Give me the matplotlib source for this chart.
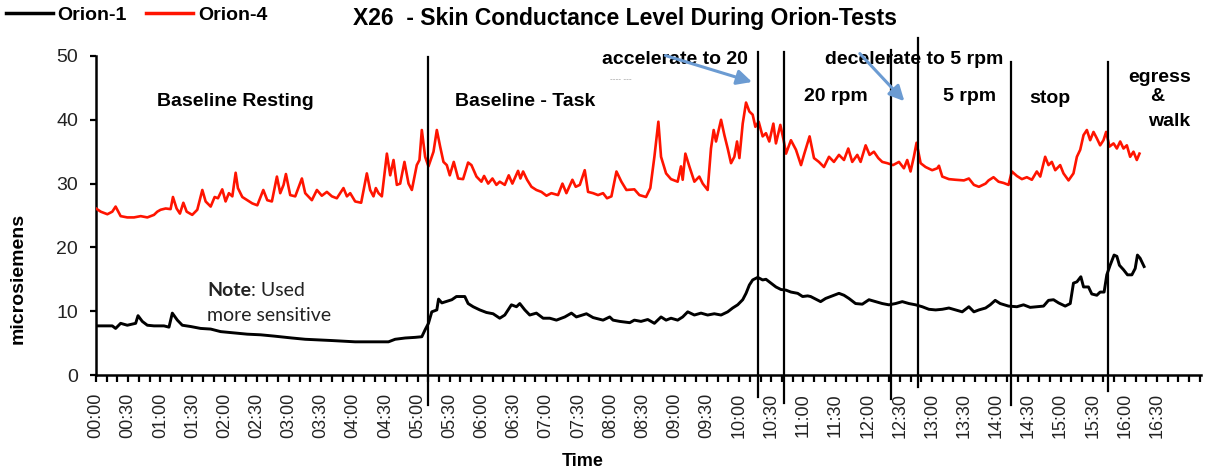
import matplotlib
matplotlib.use("Agg")
import matplotlib.pyplot as plt
import matplotlib.transforms as mtransforms
import numpy as np

plt.rcParams['font.family'] = ['Liberation Sans', 'DejaVu Sans']

# Orion-4 skin conductance (time in seconds, microsiemens)
red_t = [0, 4.4, 10.6, 15.2, 18.3, 23.0, 29.2, 35.4, 41.7, 47.9, 54.1, 57.2, 60.3, 65.0,
         69.6, 71.8, 75.2, 78.3, 81.5, 84.6, 89.8, 94.5, 99.2, 102.3, 107.0, 110.7, 113.8,
         117.8, 120.9, 124.0, 127.2, 130.3, 132.4, 136.5, 141.1, 145.8, 150.5, 156.1, 159.8,
         164.1, 168.8, 171.9, 175.0, 177.2, 181.2, 185.9, 192.1, 195.2, 201.4, 206.1, 210.7,
         215.4, 220.1, 224.7, 230.9, 234.1, 237.2, 241.8, 247.4, 252.7, 255.8, 258.9, 261.1,
         263.6, 266.7, 271.4, 274.5, 277.6, 280.7, 283.8, 287.8, 291.6, 294.7, 299.3, 301.8,
         304.0, 307.1, 310.2, 314.9, 318.0, 321.1, 324.2, 327.3, 330.1, 333.8, 337.9, 342.5,
         347.2, 350.3, 355.0, 359.6, 362.1, 365.9, 369.9, 373.6, 376.7, 381.4, 385.1, 388.5,
         393.8, 396.0, 398.5, 402.2, 406.3, 410.9, 415.6, 420.3, 424.9, 431.1, 435.2, 438.9,
         444.5, 447.6, 451.4, 456.0, 459.1, 463.8, 468.4, 473.1, 476.8, 480.9, 485.6, 490.2,
         494.9, 502.3, 507.0, 513.2, 517.2, 521.0, 524.7, 527.2, 531.9, 536.5, 542.7, 545.8,
         547.4, 549.9, 553.6, 558.3, 562.9, 566.1, 570.7, 573.8, 576.3, 578.5, 583.2, 586.3,
         589.4, 592.5, 595.6, 598.1, 600.3, 603.4, 606.5, 609.6, 612.7, 615.2, 618.3, 622.0,
         625.1, 628.2, 632.0, 634.4, 638.5, 641.6, 643.8, 648.4, 653.1, 657.8, 660.9, 665.8,
         669.9, 674.5, 679.2, 683.9, 688.5, 693.2, 697.9, 701.9, 705.6, 710.3, 713.4, 718.1,
         721.8, 725.8, 729.9, 733.6, 738.3, 743.6, 749.2, 753.8, 756.9, 760.0, 763.1, 765.6,
         769.4, 774.0, 780.2, 784.9, 786.5, 789.6, 795.8, 802.0, 809.8, 814.4, 819.1, 823.8,
         830.0, 832.8, 837.4, 842.1, 846.8, 851.4, 854.5, 859.2, 863.9, 868.5, 873.2, 877.8,
         881.0, 885.6, 888.7, 891.8, 895.0, 899.6, 902.7, 907.4, 912.0, 915.2, 918.3, 921.4,
         924.5, 927.6, 930.7, 933.8, 936.9, 940.0, 942.5, 945.6, 949.4, 952.5, 955.6, 958.7,
         961.8, 964.9, 968.0, 971.1, 973.6]
red_v = [26.1, 25.6, 25.2, 25.6, 26.4, 24.9, 24.7, 24.7, 24.9, 24.7, 25.1, 25.6, 25.9, 26.1,
         26.0, 27.9, 26.1, 25.3, 27.0, 25.6, 25.1, 25.9, 29.0, 27.2, 26.4, 27.9, 27.7,
         29.1, 27.2, 28.5, 28.0, 31.7, 29.3, 27.9, 27.4, 26.9, 26.6, 29.0, 27.4,
         27.2, 31.1, 28.5, 29.8, 31.5, 28.2, 28.0, 30.8, 28.5, 27.4, 29.0, 28.1,
         28.7, 28.0, 27.7, 29.3, 28.0, 28.5, 27.2, 27.0, 31.6, 29.0, 28.0, 29.3,
         28.5, 28.0, 34.7, 31.3, 33.7, 29.8, 30.0, 33.4, 30.0, 29.0, 32.9, 33.7,
         38.4, 34.2, 32.7, 35.0, 38.4, 35.8, 33.4, 32.9, 31.3, 33.4, 30.8, 30.7,
         33.3, 32.9, 31.1, 30.3, 31.2, 30.0, 30.8, 29.8, 30.3, 29.8, 31.3, 30.0,
         32.0, 30.8, 31.9, 30.6, 29.5, 29.0, 28.7, 28.1, 28.5, 28.2, 30.0, 28.5,
         30.6, 29.5, 29.8, 32.1, 28.7, 28.5, 28.2, 28.5, 27.7, 28.0, 31.9, 30.3,
         29.0, 29.1, 28.2, 27.9, 29.3, 34.2, 39.7, 34.2, 31.6, 30.7, 30.3, 32.7,
         30.6, 34.7, 32.7, 30.3, 31.1, 30.0, 29.0, 35.5, 38.4, 36.6, 40.0, 37.6,
         35.5, 33.2, 34.2, 36.6, 34.0, 39.4, 42.7, 41.3, 40.8, 38.9, 39.7, 37.4,
         37.9, 36.6, 39.4, 36.3, 39.2, 36.8, 34.7, 36.8, 35.3, 32.9, 34.7, 37.4,
         34.0, 33.4, 32.6, 34.2, 33.4, 34.5, 33.7, 35.5, 33.4, 34.5, 33.4, 36.0,
         34.5, 35.0, 34.0, 33.4, 33.2, 32.9, 33.4, 32.4, 33.7, 31.9, 34.2, 36.4,
         33.2, 32.6, 32.1, 32.4, 32.8, 31.1, 30.7, 30.6, 30.5, 30.8, 29.8, 29.5,
         30.0, 30.5, 31.0, 30.3, 30.1, 29.8, 31.9, 31.2, 30.7, 31.0, 30.6, 31.9,
         31.1, 34.2, 32.9, 33.4, 32.1, 32.9, 31.6, 30.5, 31.6, 34.2, 35.3, 37.6,
         38.4, 36.8, 38.1, 37.1, 36.0, 36.8, 38.1, 35.8, 36.3, 35.5, 36.6, 35.5,
         36.0, 34.2, 35.0, 33.7, 34.7]

# Orion-1 skin conductance (time in seconds, microsiemens)
black_t = [0, 15.2, 18.3, 23.0, 29.2, 37.0, 39.2, 43.2, 47.9, 54.1, 63.4, 68.1, 71.2, 75.9,
           80.5, 88.3, 97.6, 107.0, 116.3, 128.7, 141.1, 153.6, 166.0, 182.8, 195.2, 220.1,
           241.8, 272.9, 279.1, 288.5, 297.8, 304.0, 307.1, 310.2, 313.3, 318.0, 319.6, 322.7,
           332.0, 336.3, 344.1, 347.2, 351.9, 358.1, 364.3, 370.5, 376.7, 381.4, 387.6, 392.3,
           395.4, 400.1, 404.7, 410.9, 417.2, 423.4, 429.6, 437.4, 443.6, 448.2, 457.6, 463.8,
           473.1, 479.3, 482.4, 488.7, 498.0, 502.3, 508.5, 514.8, 521.0, 527.2, 531.9, 536.5,
           542.7, 547.4, 552.1, 558.3, 564.5, 570.7, 576.9, 583.2, 589.4, 594.0, 598.7, 603.4,
           606.5, 609.6, 612.7, 617.4, 622.0, 625.1, 629.8, 634.4, 639.1, 643.8, 648.4, 654.7,
           659.3, 664.0, 666.8, 671.4, 676.1, 680.8, 687.0, 693.2, 697.9, 702.5, 708.7, 715.0,
           721.2, 727.4, 733.6, 739.8, 746.0, 752.3, 758.5, 764.7, 770.9, 777.1, 783.4, 789.6,
           795.8, 802.0, 808.2, 814.4, 819.1, 823.8, 830.0, 834.3, 839.0, 843.6, 851.4, 859.2,
           865.4, 871.6, 877.8, 884.1, 888.7, 893.4, 898.1, 904.3, 909.0, 912.0, 915.2, 918.9,
           921.4, 926.0, 929.1, 933.8, 936.9, 940.6, 943.1, 946.2, 949.9, 952.5, 954.9, 958.7,
           962.4, 966.5, 969.6, 971.7, 974.2, 977.9]
black_v = [7.7, 7.7, 7.3, 8.1, 7.8, 8.1, 9.3, 8.4, 7.8, 7.7, 7.7, 7.5, 9.7, 8.6,
           7.8, 7.6, 7.3, 7.2, 6.8, 6.6, 6.4, 6.3, 6.1, 5.8, 5.6, 5.4,
           5.2, 5.2, 5.6, 5.8, 5.9, 6.0, 7.1, 8.1, 9.9, 10.2, 11.9, 11.3,
           11.8, 12.3, 12.3, 11.2, 10.7, 10.2, 9.8, 9.6, 8.9, 9.4, 11.0, 10.7,
           11.2, 10.2, 9.4, 9.7, 8.9, 8.9, 8.6, 9.1, 9.7, 9.1, 9.6, 9.0,
           8.6, 9.1, 8.6, 8.4, 8.2, 8.6, 8.4, 8.7, 8.1, 9.1, 8.6, 8.9,
           8.6, 9.1, 9.9, 9.4, 9.7, 9.4, 9.6, 9.4, 9.9, 10.5, 11.0, 11.8,
           12.8, 14.1, 14.9, 15.3, 14.9, 15.0, 14.4, 13.8, 13.4, 13.3, 13.0, 12.8,
           12.3, 12.4, 12.3, 11.9, 11.5, 12.0, 12.4, 12.8, 12.5, 12.0, 11.2, 11.1,
           11.8, 11.5, 11.2, 11.0, 11.2, 11.5, 11.2, 11.0, 10.7, 10.3, 10.2, 10.3,
           10.5, 10.2, 9.9, 10.7, 9.9, 10.2, 10.5, 11.0, 11.7, 11.2, 10.8, 10.7,
           11.0, 10.6, 10.7, 10.8, 11.7, 11.8, 11.3, 10.8, 11.2, 14.4, 14.6, 15.4,
           13.8, 13.8, 12.7, 12.5, 13.0, 13.0, 15.7, 17.2, 18.8, 18.6, 17.2, 16.5,
           15.7, 15.7, 16.7, 18.8, 18.3, 17.0]

# phase boundaries (seconds) and how far each marker line reaches (microsiemens)
event_t = [310, 617.4, 641.9, 741.4, 767.2, 853.3, 944.4]
event_lo = [-4.7, -3.4, -4.4, -3.8, -1.9, -4.7, -2.5]
event_hi = [49.8, 50.7, 50.6, 50.9, 52.8, 49.0, 49.1]

phase_labels = ["Baseline Resting", "Baseline - Task", "20 rpm", "5 rpm", "stop"]
phase_x = [129.6, 400, 690, 815, 889.7]
phase_y = [42.9, 42.9, 43.6, 43.6, 43.4]

tick_secs = np.arange(0, 1031, 10)

fig = plt.figure(figsize=(12.07, 4.71), dpi=100)
ax = fig.add_axes([96 / 1207, 96 / 471, 1105 / 1207, 319 / 471])

l1, = ax.plot(black_t, black_v, color='black', lw=2.1, label='Orion-1', zorder=3)
l4, = ax.plot(red_t, red_v, color='#ff1400', lw=1.9, label='Orion-4', zorder=3)

for t, lo, hi in zip(event_t, event_lo, event_hi):
    ax.plot([t, t], [lo, hi], color='black', lw=1.6, clip_on=False, zorder=4)

ax.set_xlim(0, 1031)
ax.set_ylim(0, 50)
ax.set_yticks(range(0, 51, 10))
ax.set_xticks(tick_secs)
ax.set_xticklabels(['%02d:%02d' % (s // 60, s % 60) if s % 30 == 0 and s < 1000 else ''
                    for s in tick_secs], rotation=90, fontsize=13, color='#222222')
shift = mtransforms.ScaledTranslation(4 / 100, 0, fig.dpi_scale_trans)
for lab in ax.get_xticklabels():
    lab.set_transform(lab.get_transform() + shift)
ax.tick_params(axis='x', direction='out', length=5, width=1.6, pad=8)
ax.tick_params(axis='y', direction='out', length=4, width=1.6, pad=9, labelsize=14,
               labelcolor='#222222')

for side in ['top', 'right']:
    ax.spines[side].set_visible(False)
for side in ['left', 'bottom']:
    ax.spines[side].set_linewidth(1.8)

for txt, x, y in zip(phase_labels, phase_x, phase_y):
    ax.text(x, y, txt, ha='center', va='center', fontsize=14, fontweight='bold')

ax.text(540, 49.4, "accelerate to 20", ha='center', va='center', fontsize=14,
        fontweight='bold', clip_on=False)
ax.text(480, 46.3, "---- ---", ha='left', va='center', fontsize=6, color='#999999')
ax.text(763.8, 49.4, "decelerate to 5 rpm", ha='center', va='center', fontsize=14,
        fontweight='bold', clip_on=False)
ax.text(992.3, 46.7, "egress", ha='center', va='center', fontsize=14, fontweight='bold')
ax.text(990.4, 43.6, "&", ha='center', va='center', fontsize=14, fontweight='bold')
ax.text(1001.6, 39.8, "walk", ha='center', va='center', fontsize=14, fontweight='bold')

arrow_kw = dict(arrowstyle='-|>,head_length=0.9,head_width=0.45', color='#6b9bd2', lw=2.2)
ax.annotate('', xy=(614.6, 45.8), xytext=(528.8, 50.2), arrowprops=arrow_kw,
            annotation_clip=False, zorder=5)
ax.annotate('', xy=(756.0, 42.6), xytext=(710.9, 50.7), arrowprops=arrow_kw,
            annotation_clip=False, zorder=5)

note = ax.text(103.5, 13.2, "Note", ha='left', va='center', fontsize=14,
               fontweight='bold', family='Lato', color='#222222')
ax.annotate(": Used", xy=(1, 0), xycoords=note, ha='left', va='bottom', fontsize=14,
            family='Lato', color='#222222')
ax.text(103.5, 9.4, "more sensitive", ha='left', va='center', fontsize=14,
        family='Lato', color='#222222')

fig.text(18 / 1207, 1 - 278 / 471, "microsiemens", rotation=90, ha='center', va='center',
         fontsize=14, fontweight='bold')
fig.text(583 / 1207, 1 - 462 / 471, "Time", ha='center', va='center',
         fontsize=13, fontweight='bold')
fig.text(625 / 1207, 1 - 19 / 471, "X26  - Skin Conductance Level During Orion-Tests",
         ha='center', va='center', fontsize=16.5, fontweight='bold')

leg = fig.legend(handles=[l1, l4], loc='upper left', bbox_to_anchor=(6 / 1207, 1 - 6 / 471),
                 ncol=2, frameon=False, borderpad=0, borderaxespad=0, handlelength=2.4,
                 handletextpad=0.25, columnspacing=1.0,
                 prop={'size': 14, 'weight': 'bold'})
for h in leg.legend_handles:
    h.set_linewidth(2.5)

fig.savefig('out.png', dpi=100)
